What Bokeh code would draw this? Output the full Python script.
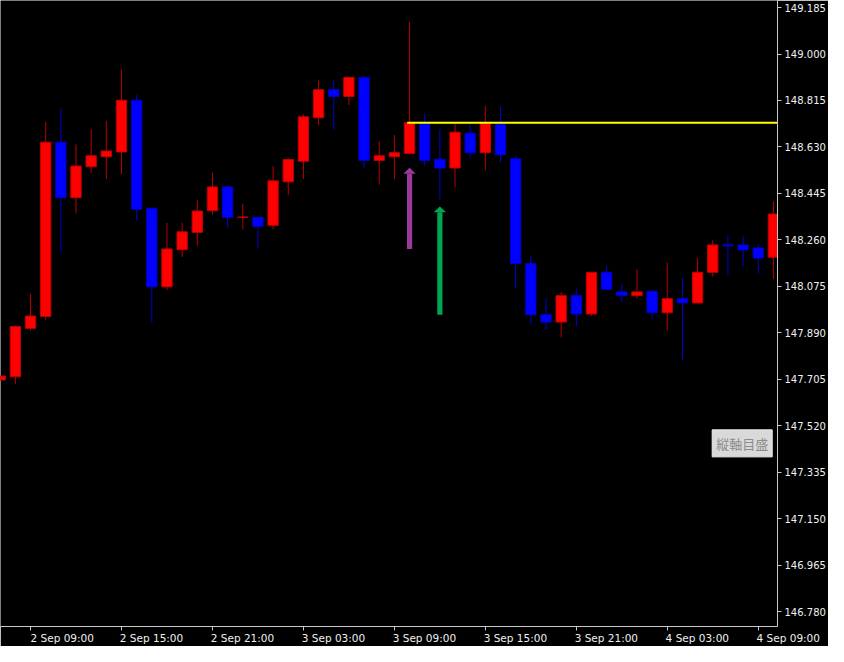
from bokeh.plotting import figure
from bokeh.models import FixedTicker, PrintfTickFormatter, Label, Range1d, ColumnDataSource
from bokeh.embed import file_html
from bokeh.resources import INLINE

# hourly candles, index 0 = 2 Sep 09:00
idx = list(range(-2, 50))
opens = [147.702, 147.715, 147.908, 147.955, 148.649, 148.428, 148.551, 148.591, 148.610, 148.816,
         148.386, 148.073, 148.221, 148.290, 148.376, 148.471, 148.350, 148.350, 148.318, 148.491,
         148.573, 148.746, 148.858, 148.831, 148.907, 148.576, 148.591, 148.604, 148.724, 148.581,
         148.546, 148.685, 148.607, 148.721, 148.583, 148.166, 147.962, 147.933, 148.038, 147.965,
         148.131, 148.053, 148.038, 148.055, 147.970, 148.026, 148.009, 148.131, 148.240, 148.240,
         148.228, 148.191]
highs = [147.722, 147.919, 148.045, 148.730, 148.784, 148.640, 148.700, 148.734, 148.939, 148.837,
         148.386, 148.328, 148.328, 148.417, 148.528, 148.479, 148.404, 148.350, 148.554, 148.585,
         148.760, 148.895, 148.895, 148.911, 148.915, 148.652, 148.677, 149.127, 148.765, 148.700,
         148.724, 148.721, 148.793, 148.791, 148.595, 148.198, 148.026, 148.053, 148.067, 148.131,
         148.157, 148.085, 148.143, 148.059, 148.170, 148.109, 148.189, 148.259, 148.279, 148.277,
         148.243, 148.413]
lows = [147.698, 147.687, 147.899, 147.942, 148.211, 148.366, 148.527, 148.502, 148.522, 148.337,
        147.930, 148.061, 148.192, 148.237, 148.359, 148.308, 148.302, 148.228, 148.301, 148.438,
        148.502, 148.715, 148.700, 148.797, 148.544, 148.480, 148.502, 148.604, 148.555, 148.422,
        148.469, 148.588, 148.537, 148.567, 148.069, 147.925, 147.903, 147.872, 147.915, 147.957,
        148.063, 148.012, 148.026, 147.943, 147.899, 147.784, 148.009, 148.113, 148.121, 148.155,
        148.125, 148.104]
closes = [147.718, 147.915, 147.957, 148.649, 148.428, 148.554, 148.595, 148.614, 148.816, 148.382,
          148.073, 148.224, 148.292, 148.375, 148.471, 148.349, 148.351, 148.314, 148.495, 148.580,
          148.750, 148.858, 148.831, 148.907, 148.576, 148.595, 148.607, 148.726, 148.576, 148.546,
          148.689, 148.607, 148.724, 148.599, 148.166, 147.962, 147.933, 148.038, 147.965, 148.131,
          148.063, 148.038, 148.053, 147.970, 148.026, 148.009, 148.131, 148.240, 148.236, 148.220,
          148.188, 148.363]

x_tick_idx = [0, 6, 12, 18, 24, 30, 36, 42, 48]
x_tick_labels = ["2 Sep 09:00", "2 Sep 15:00", "2 Sep 21:00", "3 Sep 03:00", "3 Sep 09:00",
                 "3 Sep 15:00", "3 Sep 21:00", "4 Sep 03:00", "4 Sep 09:00"]
y_ticks = [146.780, 146.965, 147.150, 147.335, 147.520, 147.705, 147.890, 148.075,
           148.260, 148.445, 148.630, 148.815, 149.000, 149.185]

level_start = 24.85
level_price = 148.726
arrow_x = [25, 27]
arrow_tip = [148.547, 148.393]
arrow_base = [148.224, 147.962]
arrow_colors = ["#9b3a9b", "#00a651"]
scale_tag_price = 147.450
scale_tag_text = "縦軸目盛"

up = [c >= o for o, c in zip(opens, closes)]
body_fill = ["#ff0000" if u else "#0000ff" for u in up]
body_line = ["#c00000" if u else "#0000c8" for u in up]
wick_col = ["#b80000" if u else "#0000d8" for u in up]

src = ColumnDataSource(dict(
    x=idx, o=opens, h=highs, l=lows, c=closes,
    top=[max(o, c) for o, c in zip(opens, closes)],
    bot=[min(o, c) for o, c in zip(opens, closes)],
    fill=body_fill, line=body_line, wick=wick_col,
))

x_end = 49.27
p = figure(width=828, height=646, x_range=Range1d(-1.98, x_end), y_range=Range1d(146.721, 149.213),
           y_axis_location="right", output_backend="svg", toolbar_location=None,
           background_fill_color="#000000", border_fill_color="#000000",
           min_border_left=0, min_border_top=0, min_border_right=0, min_border_bottom=0)
p.outline_line_color = None
p.grid.visible = False

p.segment(x0="x", y0="l", x1="x", y1="h", line_color="wick", line_width=1, source=src)
p.vbar(x="x", width=0.68, top="top", bottom="bot", fill_color="fill", line_color="line",
       line_width=1, source=src)

# horizontal level line
p.segment(x0=[level_start], y0=[level_price], x1=[x_end + 5], y1=[level_price],
          line_color="#ffff00", line_width=2)

# arrows
head_h = 0.0232
head_w = 0.41
p.vbar(x=arrow_x, width=0.34, bottom=arrow_base, top=[t - head_h for t in arrow_tip],
       fill_color=arrow_colors, line_color=None)
p.patches(xs=[[x - head_w, x, x + head_w] for x in arrow_x],
          ys=[[t - head_h, t, t - head_h] for t in arrow_tip],
          fill_color=arrow_colors, line_color=None)

axis_col = "#c8c8c8"
txt_col = "#f0f0f0"

ya = p.yaxis[0]
ya.ticker = FixedTicker(ticks=y_ticks, minor_ticks=[])
ya.formatter = PrintfTickFormatter(format="%.3f")
ya.axis_line_color = axis_col
ya.major_tick_line_color = axis_col
ya.major_tick_out = 4
ya.major_tick_in = 0
ya.minor_tick_line_color = None
ya.minor_tick_out = 0
ya.major_label_standoff = 3
ya.major_label_text_color = txt_col
ya.major_label_text_font = "DejaVu Sans"
ya.major_label_text_font_size = "10px"

nb = "\u00a0"
pads = [9] + [18] * (len(x_tick_idx) - 1)
xa = p.xaxis[0]
xa.ticker = FixedTicker(ticks=x_tick_idx, minor_ticks=[])
xa.major_label_overrides = {t: nb * n + lab for t, lab, n in zip(x_tick_idx, x_tick_labels, pads)}
xa.axis_line_color = axis_col
xa.major_tick_line_color = axis_col
xa.major_tick_out = 4
xa.major_tick_in = 0
xa.minor_tick_line_color = None
xa.minor_tick_out = 0
xa.major_label_standoff = 1
xa.major_label_text_color = txt_col
xa.major_label_text_font = "DejaVu Sans"
xa.major_label_text_font_size = "10.5px"

tag = Label(x=x_end - 0.35, y=scale_tag_price, text=scale_tag_text,
            text_font="Noto Sans CJK JP", text_font_size="13px", text_align="right",
            text_color="#8c8c8c", text_baseline="middle", background_fill_color="#d9d9d9",
            border_line_color="#eeeeee", padding=4)
p.add_layout(tag)

open("out.html", "w").write(file_html(p, INLINE))
